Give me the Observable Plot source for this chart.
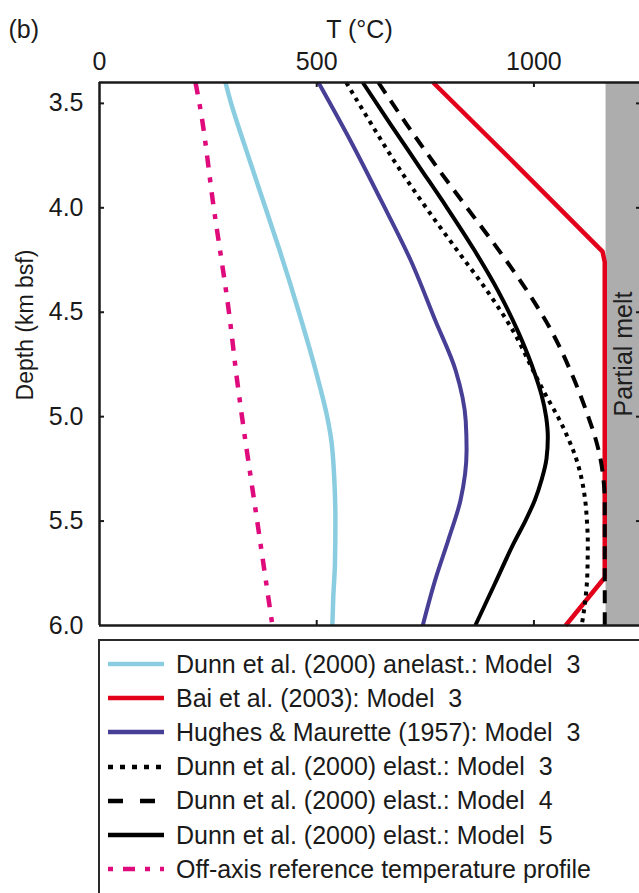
<!DOCTYPE html>
<html>
<head>
<meta charset="utf-8">
<script src="https://cdn.jsdelivr.net/npm/d3@7"></script>
<script src="https://cdn.jsdelivr.net/npm/@observablehq/plot@0.6"></script>
<style>
  html, body { margin: 0; padding: 0; background: #fff; overflow: hidden; }
  #wrap { position: relative; width: 639px; height: 893px; overflow: hidden; font-family: "Liberation Sans", Arial, Helvetica, sans-serif; color: #1a1a1a; }
  #chart { position: absolute; left: 0; top: 0; width: 639px; }
  #legend { position: absolute; left: 98px; top: 639px; width: 700px; height: 400px; border-left: 2px solid #2a2a2a; border-top: 2px solid #2a2a2a; box-sizing: border-box; }
  .row { position: absolute; left: 0; height: 34px; display: flex; align-items: center; white-space: pre; font-size: 25px; }
  .row svg { margin-left: 8px; margin-right: 12px; flex: none; }
</style>
</head>
<body>
<div id="wrap">
  <div id="chart"></div>
  <div id="legend"></div>
</div>
<script>
// ---------- data ----------
const tempDomain = [0, 1243];
const depthDomain = [3.4, 6.0];
const tempTicks = [0, 500, 1000];
const depthTicks = [3.5, 4.0, 4.5, 5.0, 5.5, 6.0];
const partialMeltT = [1166, 1243];

const dunnAnelastDepth = [3.4, 3.5, 3.6, 3.7, 3.8, 3.9, 4.0, 4.2, 4.35, 4.5, 4.67, 4.83, 5.0, 5.12, 5.28, 5.5, 5.7, 5.87, 6.0];
const dunnAnelastT     = [290, 303, 318, 334, 350, 366, 382, 414, 437, 459, 483, 504, 524, 534, 540, 543, 542, 538, 536];

const baiDepth = [3.4, 3.8, 4.21, 4.26, 5.77, 6.0];
const baiT     = [768, 962, 1158, 1163, 1163, 1073];

const hughesDepth = [3.4, 3.68, 3.96, 4.25, 4.54, 4.78, 5.02, 5.16, 5.4, 5.59, 5.78, 6.0];
const hughesT     = [504, 578, 647, 716, 773, 820, 843, 845, 831, 803, 773, 744];

const dunnM3Depth = [3.4, 3.6, 3.8, 4.0, 4.2, 4.4, 4.6, 4.8, 4.9, 5.0, 5.1, 5.2, 5.3, 5.4, 5.5, 5.6, 5.75, 5.9, 6.0];
const dunnM3T     = [568, 626, 686, 752, 822, 893, 955, 1003, 1028, 1055, 1078, 1097, 1110, 1118, 1122, 1124, 1123, 1117, 1110];

const dunnM4Depth = [3.4, 3.6, 3.8, 4.0, 4.2, 4.4, 4.6, 4.8, 5.0, 5.1, 5.2, 5.3, 5.4, 6.0];
const dunnM4T     = [642, 707, 775, 846, 918, 985, 1043, 1088, 1125, 1141, 1153, 1160, 1163, 1163];

const dunnM5Depth = [3.4, 3.6, 3.8, 4.0, 4.2, 4.4, 4.6, 4.8, 4.9, 5.0, 5.1, 5.2, 5.3, 5.4, 5.5, 5.6, 5.8, 6.0];
const dunnM5T     = [606, 670, 735, 800, 862, 918, 965, 1003, 1018, 1028, 1032, 1029, 1018, 1002, 980, 955, 910, 865];

const offAxisDepth = [3.4, 3.5, 4.0, 4.5, 4.83, 5.0, 5.5, 6.0];
const offAxisT     = [221, 230, 263, 298, 317, 328, 363, 398];

const seriesNames = [
  "Dunn et al. (2000) anelast.: Model  3",
  "Bai et al. (2003): Model  3",
  "Hughes & Maurette (1957): Model  3",
  "Dunn et al. (2000) elast.: Model  3",
  "Dunn et al. (2000) elast.: Model  4",
  "Dunn et al. (2000) elast.: Model  5",
  "Off-axis reference temperature profile"
];

// ---------- styles ----------
const styles = [
  {color: "#8bcde0", width: 4.5, dash: null, legendDash: null, curve: "monotone-y"},
  {color: "#e2001a", width: 4.5, dash: null, legendDash: null, curve: "linear"},
  {color: "#473f96", width: 4, dash: null, legendDash: null, curve: "monotone-y"},
  {color: "#000000", width: 4, dash: "4,5", legendDash: "5,7", curve: "monotone-y"},
  {color: "#000000", width: 4, dash: "13,9", legendDash: "15,17", curve: "monotone-y"},
  {color: "#000000", width: 4, dash: null, legendDash: null, curve: "monotone-y"},
  {color: "#df0b7c", width: 4.5, dash: "12,10,5,10", legendDash: "5,10,12,10,5,10", curve: "monotone-y"}
];

const seriesData = [
  [dunnAnelastDepth, dunnAnelastT],
  [baiDepth, baiT],
  [hughesDepth, hughesT],
  [dunnM3Depth, dunnM3T],
  [dunnM4Depth, dunnM4T],
  [dunnM5Depth, dunnM5T],
  [offAxisDepth, offAxisT]
].map(([ds, ts]) => ds.map((d, i) => ({d, t: ts[i]})));

const FONT = '"Liberation Sans", Arial, Helvetica, sans-serif';
const FS = 25;
const INK = "#1a1a1a";
const H = 640, MT = 82, MB = 15, ML = 99, W = 639;
const frameH = H - MT - MB, frameW = W - ML;
const TICK = 5;

const lineMarks = seriesData.map((rows, i) => Plot.line(rows, {
  x: "t", y: "d",
  stroke: styles[i].color,
  strokeWidth: styles[i].width,
  strokeDasharray: styles[i].dash || undefined,
  strokeLinecap: "butt",
  strokeLinejoin: "round",
  curve: styles[i].curve
}));

const chart = Plot.plot({
  width: W, height: H,
  marginTop: MT, marginBottom: MB, marginLeft: ML, marginRight: 0,
  style: {fontFamily: FONT, fontSize: FS + "px", color: INK, background: "transparent", overflow: "visible", maxWidth: "none"},
  x: {domain: tempDomain, axis: null},
  y: {domain: depthDomain, reverse: true, axis: null},
  marks: [
    Plot.rect([partialMeltT], {x1: d => d[0], x2: d => d[1], fill: "#adadad"}),
    ...lineMarks,
    // frame lines (top, bottom, left)
    Plot.ruleY([depthDomain[0], depthDomain[1]], {stroke: INK, strokeWidth: 2.5}),
    Plot.ruleX([tempDomain[0]], {stroke: INK, strokeWidth: 2.5}),
    // inward ticks
    Plot.ruleX(tempTicks.filter(t => t > 0), {stroke: INK, strokeWidth: 2, insetBottom: frameH - TICK}),
    Plot.ruleX(tempTicks.filter(t => t > 0), {stroke: INK, strokeWidth: 2, insetTop: frameH - TICK}),
    Plot.ruleY(depthTicks.filter(d => d < 6), {stroke: INK, strokeWidth: 2, insetRight: frameW - TICK}),
    Plot.ruleY(depthTicks.filter(d => d < 6), {stroke: INK, strokeWidth: 2, insetLeft: frameW - TICK + 2}),
    // tick labels
    Plot.axisX({anchor: "top", ticks: tempTicks, tickSize: 0, tickPadding: 13, tickFormat: d3.format("d"), label: null, fill: INK, fontSize: FS}),
    Plot.axisY({anchor: "left", ticks: depthTicks, tickSize: 0, tickPadding: 16, tickFormat: d3.format(".1f"), label: null, fill: INK, fontSize: FS}),
    // titles
    Plot.text(["T (°C)"], {frameAnchor: "top", textAnchor: "middle", lineAnchor: "middle", dx: -10, dy: -53, fill: INK, fontSize: FS}),
    Plot.text(["Depth (km bsf)"], {frameAnchor: "left", textAnchor: "middle", lineAnchor: "middle", rotate: -90, dx: -74, dy: -29, fill: INK, fontSize: 23}),
    Plot.text(["(b)"], {frameAnchor: "top-left", textAnchor: "start", lineAnchor: "middle", dx: -91, dy: -53, fill: INK, fontSize: FS}),
    Plot.text(["Partial melt"], {frameAnchor: "right", textAnchor: "middle", lineAnchor: "middle", rotate: -90, dx: -16, dy: 0, fill: "#1e1e1e", fontSize: FS})
  ]
});
document.getElementById("chart").appendChild(chart);

// ---------- legend ----------
const legend = document.getElementById("legend");
seriesNames.forEach((name, i) => {
  const s = styles[i];
  const row = document.createElement("div");
  row.className = "row";
  row.style.top = (6 + i * 34.2) + "px";
  const dash = s.legendDash ? `stroke-dasharray="${s.legendDash}"` : "";
  row.innerHTML = `<svg width="56" height="10"><line x1="0" y1="5" x2="56" y2="5" stroke="${s.color}" stroke-width="${Math.max(s.width, 4.5)}" ${dash}/></svg><span></span>`;
  row.querySelector("span").textContent = name;
  legend.appendChild(row);
});
</script>
</body>
</html>
